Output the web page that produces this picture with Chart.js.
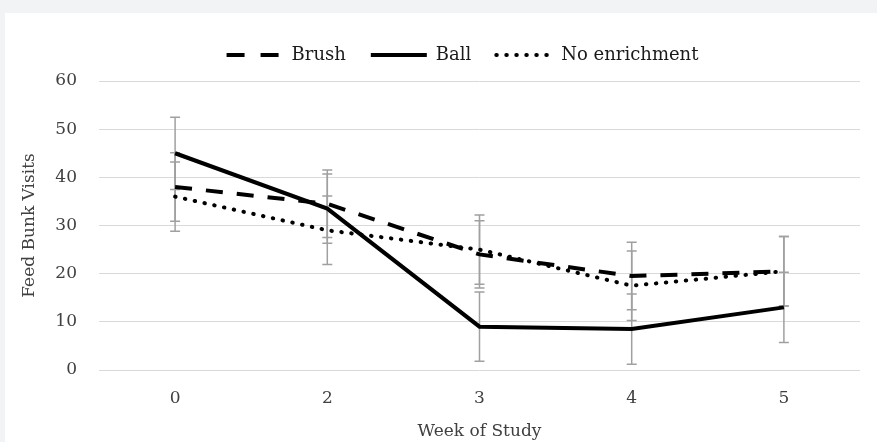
<!DOCTYPE html>
<html lang="en">
<head>
<meta charset="UTF-8">
<title>Feed Bunk Visits</title>
<script src="https://cdn.jsdelivr.net/npm/chart.js"></script>
<style>
    body { margin: 0; background: #f2f3f5; }
    #card { position: absolute; left: 5px; top: 13px; width: 872px; height: 429px; background: #fff; }
</style>
</head>
<body>
<div id="card"><canvas id="chart" width="872" height="429"></canvas></div>
<script>
const weeks = ['0', '2', '3', '4', '5'];
const brush = [38, 34.5, 24, 19.5, 20.5];
const ball = [45, 33.5, 9, 8.5, 13];
const noEnrichment = [36, 29, 25, 17.5, 20.5];
// +/- error per point
const brushErr = [7.1, 7.0, 7.0, 7.0, 7.2];
const ballErr = [7.5, 7.2, 7.2, 7.3, 7.3];
const noEnrichmentErr = [7.2, 7.1, 7.2, 7.2, 7.2];

const serif = 'DejaVu Serif';
const legendShift = 30;   // legend sits right of centre in the original
const legendBox = 56;
const legendDash = [[18, 16], [], [0.5, 9.5]];

// gray error bars drawn under the lines
const errorBars = {
    id: 'errorBars',
    beforeDatasetsDraw(chart) {
        const {ctx, scales: {x, y}} = chart;
        ctx.save();
        ctx.strokeStyle = '#a0a0a0';
        ctx.lineWidth = 1.5;
        chart.data.datasets.forEach(ds => {
            ds.data.forEach((v, i) => {
                const px = x.getPixelForValue(i);
                const top = y.getPixelForValue(v + ds.errors[i]);
                const bot = y.getPixelForValue(v - ds.errors[i]);
                ctx.beginPath();
                ctx.moveTo(px, top); ctx.lineTo(px, bot);
                ctx.moveTo(px - 5, top); ctx.lineTo(px + 5, top);
                ctx.moveTo(px - 5, bot); ctx.lineTo(px + 5, bot);
                ctx.stroke();
            });
        });
        ctx.restore();
    }
};

// legend tweaks: extra gap below, shift right, dashed sample lines
const legendStyle = {
    id: 'legendStyle',
    afterInit(chart) {
        const lg = chart.legend;
        const fit = lg.fit;
        lg.fit = function() { fit.call(this); this.height += 7; };
        const draw = lg.draw;
        lg.draw = function() {
            const ctx = this.ctx;
            ctx.save();
            ctx.translate(legendShift, 0);
            draw.call(this);
            ctx.restore();
        };
    },
    afterDraw(chart) {
        const ctx = chart.ctx;
        chart.legend.legendHitBoxes.forEach((hb, i) => {
            const y = hb.top + 9;
            ctx.save();
            ctx.strokeStyle = '#000';
            ctx.lineWidth = 4;
            ctx.lineCap = i === 2 ? 'round' : 'butt';
            ctx.setLineDash(legendDash[i]);
            ctx.beginPath();
            ctx.moveTo(hb.left + legendShift, y);
            ctx.lineTo(hb.left + legendShift + (i === 0 ? 52 : legendBox), y);
            ctx.stroke();
            ctx.restore();
        });
    }
};

new Chart(document.getElementById('chart'), {
    type: 'line',
    data: {
        labels: weeks,
        datasets: [
            { label: 'Brush', data: brush, errors: brushErr, borderColor: '#000', backgroundColor: '#000',
              borderWidth: 4, borderDash: [17, 14], pointRadius: 0, tension: 0 },
            { label: 'Ball', data: ball, errors: ballErr, borderColor: '#000', backgroundColor: '#000',
              borderWidth: 4, pointRadius: 0, tension: 0 },
            { label: 'No enrichment', data: noEnrichment, errors: noEnrichmentErr, borderColor: '#000', backgroundColor: '#000',
              borderWidth: 4, borderDash: [0.5, 9.5], borderCapStyle: 'round', pointRadius: 0, tension: 0 }
        ]
    },
    options: {
        responsive: false,
        animation: false,
        layout: { padding: { top: 8, right: 17, bottom: 0, left: 0 } },
        plugins: {
            legend: {
                position: 'top',
                labels: {
                    usePointStyle: true,
                    pointStyle: 'line',
                    pointStyleWidth: legendBox,
                    padding: 25,
                    color: '#1a1a1a',
                    font: { family: serif, size: 18 },
                    generateLabels(chart) {
                        return Chart.defaults.plugins.legend.labels.generateLabels(chart)
                            .map(item => ({ ...item, strokeStyle: 'rgba(0,0,0,0)' }));
                    }
                }
            },
            tooltip: { enabled: false }
        },
        scales: {
            x: {
                offset: true,
                grid: { display: false },
                border: { display: false },
                ticks: { color: '#404040', padding: 10, font: { family: serif, size: 17 } },
                title: { display: true, text: 'Week of Study', color: '#404040', padding: { top: 0, bottom: 0 },
                         font: { family: serif, size: 17 } },
                afterFit(scale) { scale.height = 72; }
            },
            y: {
                min: 0, max: 60,
                grid: { color: '#d9d9d9', lineWidth: 1, drawTicks: false },
                border: { display: false },
                ticks: { stepSize: 10, color: '#404040', padding: 22, font: { family: serif, size: 17 } },
                title: { display: true, text: 'Feed Bunk Visits', color: '#404040', padding: { top: 14, bottom: 0 },
                         font: { family: serif, size: 17 } },
                afterFit(scale) { scale.width = 94; }
            }
        }
    },
    plugins: [errorBars, legendStyle]
});
</script>
</body>
</html>
